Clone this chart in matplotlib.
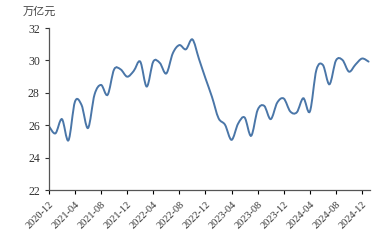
import numpy as np
import matplotlib
matplotlib.use("Agg")
import matplotlib.pyplot as plt
from matplotlib.path import Path
from matplotlib.patches import PathPatch

# monthly values, 2020-12 .. 2025-01 (万亿元)
values = [25.95, 25.5, 26.38, 25.07, 27.46, 27.26, 25.83, 27.9, 28.49, 27.88,
          29.45, 29.45, 29.0, 29.35, 29.93, 28.39, 29.93, 29.85, 29.2, 30.45,
          30.95, 30.69, 31.3, 30.1, 28.9, 27.75, 26.44, 26.03, 25.1, 26.1,
          26.48, 25.35, 26.95, 27.2, 26.38, 27.4, 27.65, 26.85, 26.8, 27.67,
          26.85, 29.42, 29.72, 28.53, 30.0, 30.03, 29.31, 29.75, 30.12, 29.93]
tick_labels = ["2020-12", "2021-04", "2021-08", "2021-12", "2022-04", "2022-08",
               "2022-12", "2023-04", "2023-08", "2023-12", "2024-04", "2024-08",
               "2024-12"]
yticks = [22, 24, 26, 28, 30, 32]


def smooth_path(x, y, t=1/6):
    # catmull-rom style bezier through the points (like a smoothed line in excel)
    verts = [(x[0], y[0])]
    codes = [Path.MOVETO]
    n = len(x)
    for i in range(n - 1):
        x0, y0 = (x[i - 1], y[i - 1]) if i > 0 else (x[i], y[i])
        x3, y3 = (x[i + 2], y[i + 2]) if i < n - 2 else (x[i + 1], y[i + 1])
        c1 = (x[i] + (x[i + 1] - x0) * t, y[i] + (y[i + 1] - y0) * t)
        c2 = (x[i + 1] - (x3 - x[i]) * t, y[i + 1] - (y3 - y[i]) * t)
        verts += [c1, c2, (x[i + 1], y[i + 1])]
        codes += [Path.CURVE4] * 3
    return Path(verts, codes)


plt.rcParams['font.family'] = ['Liberation Serif', 'Noto Sans CJK SC']

fig = plt.figure(figsize=(3.91, 2.4), dpi=100)
ax = fig.add_axes([0.125, 0.208, 0.821, 0.675])

x = np.arange(len(values))
ax.add_patch(PathPatch(smooth_path(x, values), facecolor='none',
                       edgecolor='#4a76a8', lw=1.4, capstyle='round'))

ax.set_xlim(0, 49.2)
ax.set_ylim(22, 32)
ax.set_yticks(yticks)
ax.set_xticks(np.arange(0, 49, 4))
ax.set_xticklabels(tick_labels, rotation=45, ha='right', va='top',
                   rotation_mode='anchor', fontsize=7.5, color='#333333')
ax.tick_params(axis='y', labelsize=8.5, colors='#333333', length=3, width=0.8)
ax.tick_params(axis='x', length=3, width=0.8, pad=4)
for s in ['top', 'right']:
    ax.spines[s].set_visible(False)
for s in ['left', 'bottom']:
    ax.spines[s].set_color('#555555')
    ax.spines[s].set_linewidth(0.9)

fig.text(0.057, 0.95, '万亿元', fontsize=8, family='Noto Sans CJK SC',
         color='#444444', va='center')

fig.savefig('out.png', dpi=100)
